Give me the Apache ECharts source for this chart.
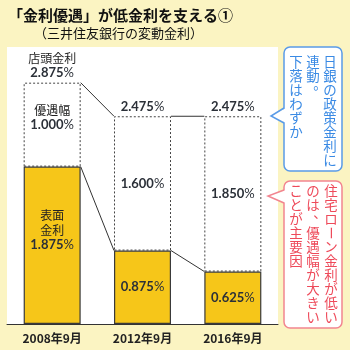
<!DOCTYPE html>
<html><head><meta charset="utf-8">
<script src="https://cdn.jsdelivr.net/npm/echarts@6/dist/echarts.min.js"></script>
<style>html,body{margin:0;padding:0;background:#FBF4C2;}#c{width:350px;height:350px;}</style>
</head><body><div id="c"></div>
<script>
const categories = ['2008年9月', '2012年9月', '2016年9月'];
const surfaceRate = [1.875, 0.875, 0.625];        // 表面金利
const preferentialWidth = [1.000, 1.600, 1.850];  // 優遇幅
const storeRate = [2.875, 2.475, 2.475];          // 店頭金利
const titleText = '「金利優遇」が低金利を支える①';
const subtitleText = '（三井住友銀行の変動金利）';
const blueNote = ['日銀の政策金利に', '連動。', '下落はわずか'];
const redNote = ['住宅ローン金利が低い', 'のは、優遇幅が大きい', 'ことが主要因'];

const BAR_W = 57;
const NUM = '#2b3038';
const rich = {
  n: {fontFamily: 'Lato', fontWeight: 'bold', fontSize: 13, color: NUM, lineHeight: 15},
  p: {fontFamily: 'Lato', fontSize: 13, color: NUM, lineHeight: 15},
  t: {fontFamily: 'Noto Sans CJK JP', fontSize: 12, color: '#222', lineHeight: 15}
};
const pct = v => '{n|' + v.toFixed(3) + '}{p|%}';

const connectorData = [];
for (let i = 0; i < categories.length - 1; i++) {
  connectorData.push([i, storeRate[i], storeRate[i + 1], surfaceRate[i], surfaceRate[i + 1]]);
}

function verticalText(cols, xs, y0, step, color) {
  const els = [];
  cols.forEach((col, c) => {
    Array.from(col).forEach((ch, k) => {
      const x = xs[c], y = y0 + k * step;
      const el = {
        type: 'text', z: 20,
        style: {text: ch, fill: color, font: '13.5px "Noto Sans CJK JP"', textAlign: 'center', textVerticalAlign: 'middle'}
      };
      if (ch === 'ー') {
        el.x = x; el.y = y; el.rotation = -Math.PI / 2;
      } else if (ch === '、' || ch === '。') {
        el.x = x + 7; el.y = y - 6;
      } else {
        el.x = x; el.y = y;
      }
      els.push(el);
    });
  });
  return els;
}

function callout(x, y, w, h, tipY1, tipX, tipY, tipY2, stroke) {
  return [
    {type: 'rect', shape: {x: x, y: y, width: w, height: h, r: 6}, style: {fill: '#fff', stroke: stroke, lineWidth: 1.5}, z: 10},
    {type: 'polygon', shape: {points: [[x + 2, tipY1], [tipX, tipY], [x + 2, tipY2]]}, style: {fill: '#fff'}, z: 11},
    {type: 'polyline', shape: {points: [[x, tipY1], [tipX, tipY], [x, tipY2]]}, style: {fill: null, stroke: stroke, lineWidth: 1.5}, z: 12}
  ];
}

const chart = echarts.init(document.getElementById('c'), null, {renderer: 'canvas'});
const graphics = [
  {type: 'text', x: 8, y: 15, style: {text: titleText, font: 'bold 15px "Noto Sans CJK JP"', fill: '#111', textVerticalAlign: 'middle'}, z: 20},
  {type: 'text', x: 34, y: 33, style: {text: subtitleText, font: '13px "Noto Sans CJK JP"', fill: '#111', textVerticalAlign: 'middle'}, z: 20}
].concat(
  callout(284, 47, 58, 124, 108, 271, 116, 123, '#5A9BE8'),
  callout(284, 181, 58, 147, 190, 268, 196, 203, '#F28590'),
  verticalText(blueNote, [330, 313, 296], 62, 14, '#3A8AE4'),
  verticalText(redNote, [331, 313, 296], 191, 14, '#EE4A5A')
);

chart.setOption({
  backgroundColor: '#FBF4C2',
  animation: false,
  grid: {left: 7, right: 72, top: 47, bottom: 26, show: true, backgroundColor: '#fff', borderWidth: 0},
  xAxis: {
    type: 'category', data: categories,
    axisLine: {lineStyle: {color: '#333', width: 1}},
    axisTick: {show: false},
    axisLabel: {color: '#222', fontSize: 12, fontFamily: 'Noto Sans CJK JP', fontWeight: 'bold', margin: 8}
  },
  yAxis: {type: 'value', min: 0, max: 3.3, show: false, splitLine: {show: false}},
  series: [
    {
      type: 'bar', stack: 'r', data: surfaceRate, barWidth: BAR_W, z: 3,
      itemStyle: {color: '#F6C619', borderColor: '#3a3a3a', borderWidth: 1.2},
      label: {
        show: true, position: 'inside', rich: rich,
        formatter: p => (p.dataIndex === 0 ? '{t|表面}\n{t|金利}\n' : '') + pct(surfaceRate[p.dataIndex])
      },
      labelLayout: p => p.dataIndex === 0 ? {dy: -15} : {}
    },
    {
      type: 'bar', stack: 'r', data: preferentialWidth, barWidth: BAR_W, z: 2,
      itemStyle: {color: '#fff', borderColor: '#444', borderWidth: 1, borderType: [2, 2]},
      label: {
        show: true, position: 'inside', rich: rich,
        formatter: p => (p.dataIndex === 0 ? '{t|優遇幅}\n' : '') + pct(preferentialWidth[p.dataIndex])
      },
      labelLayout: p => p.dataIndex === 0 ? {dy: -7} : {}
    },
    {
      type: 'scatter', data: storeRate, symbolSize: 0, z: 4, silent: true,
      itemStyle: {opacity: 1, color: NUM},
      label: {
        show: true, position: 'top', distance: 2, rich: rich, opacity: 1,
        formatter: p => (p.dataIndex === 0 ? '{t|店頭金利}\n' : '') + pct(storeRate[p.dataIndex])
      }
    },
    {
      type: 'custom', data: connectorData, z: 5, silent: true,
      encode: {x: 0, y: 1},
      renderItem: (params, api) => {
        const i = api.value(0), hw = BAR_W / 2;
        const a1 = api.coord([i, api.value(1)]), a2 = api.coord([i + 1, api.value(2)]);
        const b1 = api.coord([i, api.value(3)]), b2 = api.coord([i + 1, api.value(4)]);
        const st = {stroke: '#333', lineWidth: 1};
        return {type: 'group', children: [
          {type: 'line', shape: {x1: a1[0] + hw, y1: a1[1], x2: a2[0] - hw, y2: a2[1]}, style: st},
          {type: 'line', shape: {x1: b1[0] + hw, y1: b1[1], x2: b2[0] - hw, y2: b2[1]}, style: st}
        ]};
      }
    }
  ],
  graphic: graphics
});
</script></body></html>
